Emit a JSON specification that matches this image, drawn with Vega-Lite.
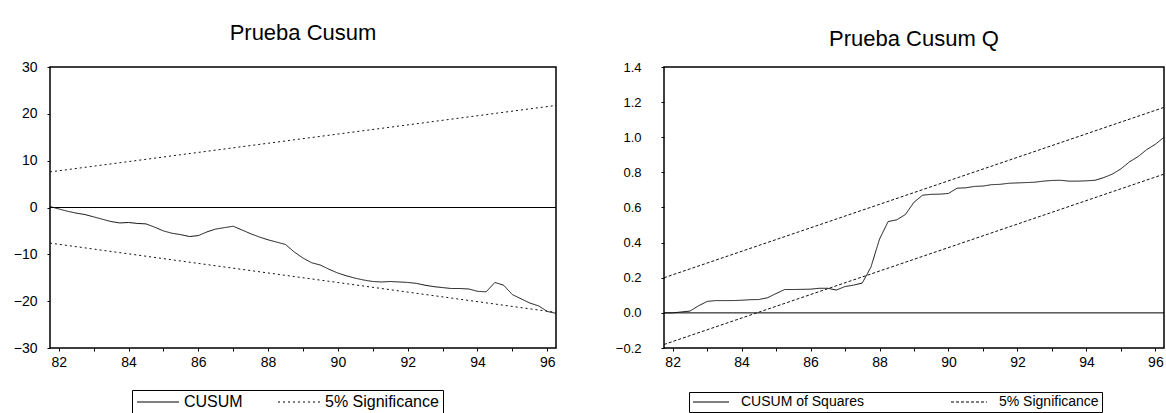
{
  "$schema": "https://vega.github.io/schema/vega-lite/v6.json",
  "padding": {"left": 12, "top": 21, "right": 0, "bottom": 0},
  "spacing": 55,
  "resolve": {"scale": {"strokeDash": "independent", "x": "independent", "y": "independent"}, "legend": {"strokeDash": "independent"}},
  "config": {
    "view": {"stroke": "black", "strokeWidth": 1.5},
    "axis": {"grid": false, "domain": false, "labelFont": "Liberation Sans", "labelFontSize": 14, "labelColor": "black", "tickColor": "black", "tickSize": 3, "title": null, "labelFlush": false},
    "legend": {"labelFont": "Liberation Sans", "labelColor": "black", "title": null, "strokeColor": "black", "fillColor": "white", "direction": "horizontal", "orient": "none", "symbolType": "M-1,0L5,0", "symbolStrokeColor": "black", "symbolFillColor": "transparent", "symbolStrokeWidth": 1},
    "title": {"font": "Liberation Sans", "fontSize": 22, "fontWeight": "normal", "color": "black", "frame": "group"}
  },
  "datasets": {
    "cs": [
      {"t":81.75,"s":"CUSUM","b":"c","v":0.2},{"t":82.0,"s":"CUSUM","b":"c","v":-0.3},{"t":82.25,"s":"CUSUM","b":"c","v":-0.8},{"t":82.5,"s":"CUSUM","b":"c","v":-1.2},
      {"t":82.75,"s":"CUSUM","b":"c","v":-1.5},{"t":83.0,"s":"CUSUM","b":"c","v":-2.0},{"t":83.25,"s":"CUSUM","b":"c","v":-2.5},{"t":83.5,"s":"CUSUM","b":"c","v":-3.0},
      {"t":83.75,"s":"CUSUM","b":"c","v":-3.3},{"t":84.0,"s":"CUSUM","b":"c","v":-3.2},{"t":84.25,"s":"CUSUM","b":"c","v":-3.4},{"t":84.5,"s":"CUSUM","b":"c","v":-3.5},
      {"t":84.75,"s":"CUSUM","b":"c","v":-4.2},{"t":85.0,"s":"CUSUM","b":"c","v":-5.0},{"t":85.25,"s":"CUSUM","b":"c","v":-5.5},{"t":85.5,"s":"CUSUM","b":"c","v":-5.8},
      {"t":85.75,"s":"CUSUM","b":"c","v":-6.2},{"t":86.0,"s":"CUSUM","b":"c","v":-6.0},{"t":86.25,"s":"CUSUM","b":"c","v":-5.2},{"t":86.5,"s":"CUSUM","b":"c","v":-4.6},
      {"t":86.75,"s":"CUSUM","b":"c","v":-4.3},{"t":87.0,"s":"CUSUM","b":"c","v":-4.0},{"t":87.25,"s":"CUSUM","b":"c","v":-4.8},{"t":87.5,"s":"CUSUM","b":"c","v":-5.6},
      {"t":87.75,"s":"CUSUM","b":"c","v":-6.3},{"t":88.0,"s":"CUSUM","b":"c","v":-6.9},{"t":88.25,"s":"CUSUM","b":"c","v":-7.4},{"t":88.5,"s":"CUSUM","b":"c","v":-7.9},
      {"t":88.75,"s":"CUSUM","b":"c","v":-9.5},{"t":89.0,"s":"CUSUM","b":"c","v":-10.8},{"t":89.25,"s":"CUSUM","b":"c","v":-11.8},{"t":89.5,"s":"CUSUM","b":"c","v":-12.3},
      {"t":89.75,"s":"CUSUM","b":"c","v":-13.2},{"t":90.0,"s":"CUSUM","b":"c","v":-14.0},{"t":90.25,"s":"CUSUM","b":"c","v":-14.6},{"t":90.5,"s":"CUSUM","b":"c","v":-15.1},
      {"t":90.75,"s":"CUSUM","b":"c","v":-15.5},{"t":91.0,"s":"CUSUM","b":"c","v":-15.8},{"t":91.25,"s":"CUSUM","b":"c","v":-15.9},{"t":91.5,"s":"CUSUM","b":"c","v":-15.8},
      {"t":91.75,"s":"CUSUM","b":"c","v":-15.9},{"t":92.0,"s":"CUSUM","b":"c","v":-16.0},{"t":92.25,"s":"CUSUM","b":"c","v":-16.2},{"t":92.5,"s":"CUSUM","b":"c","v":-16.6},
      {"t":92.75,"s":"CUSUM","b":"c","v":-16.9},{"t":93.0,"s":"CUSUM","b":"c","v":-17.1},{"t":93.25,"s":"CUSUM","b":"c","v":-17.3},{"t":93.5,"s":"CUSUM","b":"c","v":-17.3},
      {"t":93.75,"s":"CUSUM","b":"c","v":-17.4},{"t":94.0,"s":"CUSUM","b":"c","v":-17.9},{"t":94.25,"s":"CUSUM","b":"c","v":-18.0},{"t":94.5,"s":"CUSUM","b":"c","v":-16.0},
      {"t":94.75,"s":"CUSUM","b":"c","v":-16.6},{"t":95.0,"s":"CUSUM","b":"c","v":-18.6},{"t":95.25,"s":"CUSUM","b":"c","v":-19.5},{"t":95.5,"s":"CUSUM","b":"c","v":-20.4},
      {"t":95.75,"s":"CUSUM","b":"c","v":-21.0},{"t":96.0,"s":"CUSUM","b":"c","v":-22.2},{"t":96.25,"s":"CUSUM","b":"c","v":-22.6},
      {"t":81.75,"s":"5% Significance","b":"u","v":7.6},{"t":96.25,"s":"5% Significance","b":"u","v":21.8},
      {"t":81.75,"s":"5% Significance","b":"l","v":-7.6},{"t":96.25,"s":"5% Significance","b":"l","v":-22.4}
    ],
    "sq": [
      {"t":81.75,"s":"CUSUM of Squares","b":"c","v":0.0},{"t":82.0,"s":"CUSUM of Squares","b":"c","v":0.0},{"t":82.25,"s":"CUSUM of Squares","b":"c","v":0.005},{"t":82.5,"s":"CUSUM of Squares","b":"c","v":0.01},
      {"t":82.75,"s":"CUSUM of Squares","b":"c","v":0.04},{"t":83.0,"s":"CUSUM of Squares","b":"c","v":0.065},{"t":83.25,"s":"CUSUM of Squares","b":"c","v":0.07},{"t":83.5,"s":"CUSUM of Squares","b":"c","v":0.07},
      {"t":83.75,"s":"CUSUM of Squares","b":"c","v":0.07},{"t":84.0,"s":"CUSUM of Squares","b":"c","v":0.072},{"t":84.25,"s":"CUSUM of Squares","b":"c","v":0.075},{"t":84.5,"s":"CUSUM of Squares","b":"c","v":0.076},
      {"t":84.75,"s":"CUSUM of Squares","b":"c","v":0.086},{"t":85.0,"s":"CUSUM of Squares","b":"c","v":0.11},{"t":85.25,"s":"CUSUM of Squares","b":"c","v":0.133},{"t":85.5,"s":"CUSUM of Squares","b":"c","v":0.133},
      {"t":85.75,"s":"CUSUM of Squares","b":"c","v":0.134},{"t":86.0,"s":"CUSUM of Squares","b":"c","v":0.135},{"t":86.25,"s":"CUSUM of Squares","b":"c","v":0.14},{"t":86.5,"s":"CUSUM of Squares","b":"c","v":0.14},
      {"t":86.75,"s":"CUSUM of Squares","b":"c","v":0.13},{"t":87.0,"s":"CUSUM of Squares","b":"c","v":0.15},{"t":87.25,"s":"CUSUM of Squares","b":"c","v":0.158},{"t":87.5,"s":"CUSUM of Squares","b":"c","v":0.17},
      {"t":87.75,"s":"CUSUM of Squares","b":"c","v":0.26},{"t":88.0,"s":"CUSUM of Squares","b":"c","v":0.42},{"t":88.25,"s":"CUSUM of Squares","b":"c","v":0.52},{"t":88.5,"s":"CUSUM of Squares","b":"c","v":0.53},
      {"t":88.75,"s":"CUSUM of Squares","b":"c","v":0.56},{"t":89.0,"s":"CUSUM of Squares","b":"c","v":0.63},{"t":89.25,"s":"CUSUM of Squares","b":"c","v":0.67},{"t":89.5,"s":"CUSUM of Squares","b":"c","v":0.675},
      {"t":89.75,"s":"CUSUM of Squares","b":"c","v":0.676},{"t":90.0,"s":"CUSUM of Squares","b":"c","v":0.68},{"t":90.25,"s":"CUSUM of Squares","b":"c","v":0.71},{"t":90.5,"s":"CUSUM of Squares","b":"c","v":0.712},
      {"t":90.75,"s":"CUSUM of Squares","b":"c","v":0.72},{"t":91.0,"s":"CUSUM of Squares","b":"c","v":0.722},{"t":91.25,"s":"CUSUM of Squares","b":"c","v":0.73},{"t":91.5,"s":"CUSUM of Squares","b":"c","v":0.732},
      {"t":91.75,"s":"CUSUM of Squares","b":"c","v":0.738},{"t":92.0,"s":"CUSUM of Squares","b":"c","v":0.74},{"t":92.25,"s":"CUSUM of Squares","b":"c","v":0.742},{"t":92.5,"s":"CUSUM of Squares","b":"c","v":0.744},
      {"t":92.75,"s":"CUSUM of Squares","b":"c","v":0.75},{"t":93.0,"s":"CUSUM of Squares","b":"c","v":0.754},{"t":93.25,"s":"CUSUM of Squares","b":"c","v":0.755},{"t":93.5,"s":"CUSUM of Squares","b":"c","v":0.75},
      {"t":93.75,"s":"CUSUM of Squares","b":"c","v":0.75},{"t":94.0,"s":"CUSUM of Squares","b":"c","v":0.752},{"t":94.25,"s":"CUSUM of Squares","b":"c","v":0.755},{"t":94.5,"s":"CUSUM of Squares","b":"c","v":0.77},
      {"t":94.75,"s":"CUSUM of Squares","b":"c","v":0.79},{"t":95.0,"s":"CUSUM of Squares","b":"c","v":0.82},{"t":95.25,"s":"CUSUM of Squares","b":"c","v":0.86},{"t":95.5,"s":"CUSUM of Squares","b":"c","v":0.89},
      {"t":95.75,"s":"CUSUM of Squares","b":"c","v":0.93},{"t":96.0,"s":"CUSUM of Squares","b":"c","v":0.96},{"t":96.25,"s":"CUSUM of Squares","b":"c","v":1.0},
      {"t":81.75,"s":"5% Significance","b":"u","v":0.2},{"t":96.25,"s":"5% Significance","b":"u","v":1.17},
      {"t":81.75,"s":"5% Significance","b":"l","v":-0.18},{"t":96.25,"s":"5% Significance","b":"l","v":0.79}
    ]
  },
  "hconcat": [
    {
      "title": {"text": "Prueba Cusum", "offset": 15},
      "width": 506,
      "height": 281,
      "layer": [
        {
          "data": {"values": [{"v": 0}]},
          "mark": {"type": "rule", "color": "black", "strokeWidth": 1},
          "encoding": {"y": {"field": "v", "type": "quantitative", "scale": {"domain": [-30, 30], "nice": false},
                  "axis": {"values": [-30,-20,-10,0,10,20,30], "format": "d", "labelPadding": 10}}}
        },
        {
          "data": {"name": "cs"},
          "mark": {"type": "line", "color": "#111", "strokeWidth": 1},
          "encoding": {
            "x": {"field": "t", "type": "quantitative", "scale": {"domain": [81.75, 96.25], "nice": false, "zero": false},
                  "axis": {"values": [82,83,84,85,86,87,88,89,90,91,92,93,94,95,96], "labelExpr": "datum.value % 2 == 0 ? format(datum.value, 'd') : ''", "labelPadding": 4}},
            "y": {"field": "v", "type": "quantitative", "scale": {"domain": [-30, 30], "nice": false},
                  "axis": {"values": [-30,-20,-10,0,10,20,30], "format": "d", "labelPadding": 10}},
            "strokeDash": {"field": "s", "type": "nominal", "scale": {"domain": ["CUSUM", "5% Significance"], "range": [[1, 0], [2, 3]]},
                  "legend": {"legendX": 82, "legendY": 323, "symbolSize": 196, "labelOffset": 32, "labelFontSize": 16, "columnPadding": 33, "padding": 4}},
            "detail": {"field": "b"}
          }
        }
      ]
    },
    {
      "title": {"text": "Prueba Cusum Q", "offset": 10},
      "width": 500,
      "height": 281,
      "layer": [
        {
          "data": {"values": [{"v": 0}]},
          "mark": {"type": "rule", "color": "black", "strokeWidth": 1},
          "encoding": {"y": {"field": "v", "type": "quantitative", "scale": {"domain": [-0.2, 1.4], "nice": false, "zero": false},
                  "axis": {"values": [-0.2,0,0.2,0.4,0.6,0.8,1.0,1.2,1.4], "format": ".1f", "labelPadding": 20, "labelFontSize": 13}}}
        },
        {
          "data": {"name": "sq"},
          "mark": {"type": "line", "color": "#111", "strokeWidth": 1},
          "encoding": {
            "x": {"field": "t", "type": "quantitative", "scale": {"domain": [81.75, 96.25], "nice": false, "zero": false},
                  "axis": {"values": [82,83,84,85,86,87,88,89,90,91,92,93,94,95,96], "labelExpr": "datum.value % 2 == 0 ? format(datum.value, 'd') : ''", "labelPadding": 4}},
            "y": {"field": "v", "type": "quantitative", "scale": {"domain": [-0.2, 1.4], "nice": false, "zero": false},
                  "axis": {"values": [-0.2,0,0.2,0.4,0.6,0.8,1.0,1.2,1.4], "format": ".1f", "labelPadding": 20, "labelFontSize": 13}},
            "strokeDash": {"field": "s", "type": "nominal", "scale": {"domain": ["CUSUM of Squares", "5% Significance"], "range": [[1, 0], [3, 2]]},
                  "legend": {"legendX": 25, "legendY": 325, "symbolSize": 144, "labelOffset": 35, "labelFontSize": 14, "columnPadding": 85, "padding": 3}},
            "detail": {"field": "b"}
          }
        }
      ]
    }
  ]
}
